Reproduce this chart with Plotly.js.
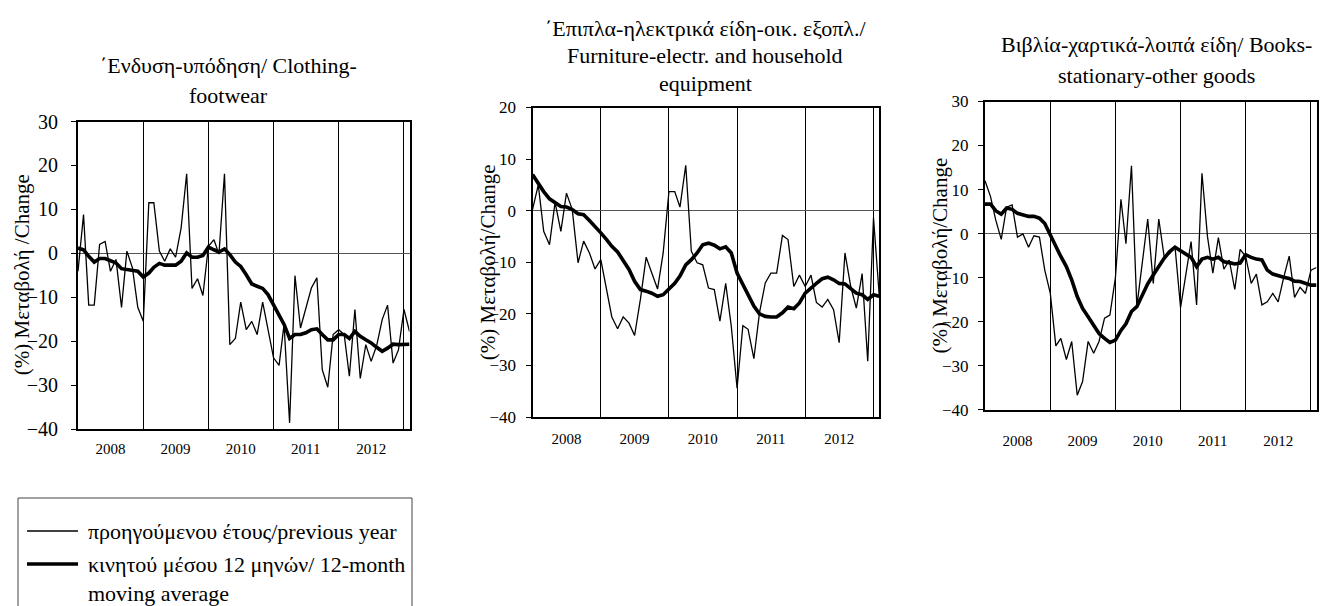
<!DOCTYPE html>
<html><head><meta charset="utf-8">
<script src="https://cdn.plot.ly/plotly-3.0.1.min.js"></script>
<style>html,body{margin:0;padding:0;background:#fff}#chart{width:1321px;height:606px}</style>
</head><body><div id="chart"></div>
<script>
// ---- categories ----
const yearLabels = ['2008', '2009', '2010', '2011', '2012'];
const yearMid = ['2008-07-01', '2009-07-01', '2010-07-01', '2011-07-01', '2012-07-01'];
const months = [];
for (let y = 2008; y <= 2013; y++) {
  for (let m = 1; m <= 12; m++) {
    if (y === 2013 && m > 2) break;
    months.push(y + '-' + String(m).padStart(2, '0') + '-01');
  }
}

// ---- series (Jan 2008 - Feb 2013) ----
const clothYoY = [-4.1, 8.8, -11.8, -11.8, 2, 2.7, -4.1, -1.4, -12.3, 0.5, -3.3, -12.3,
  -15.5, 11.5, 11.5, 0.5, -1.8, 1, -0.9, 5.8, 18.1, -8, -5.8, -9.6,
  1.6, 3.1, -0.2, 18.1, -20.8, -19.4, -11.1, -17.4, -15.5, -18.5, -11.1, -17,
  -23.8, -25.5, -16.2, -38.6, -5.1, -17, -12.3, -7.9, -5.6, -26.5, -30.5, -18.5,
  -17.4, -18.5, -28, -12.8, -28.5, -20.8, -24.6, -21, -15.1, -11.8, -25, -22,
  -12.8, -17.8];
const clothMA = [1.2, 0.8, -0.7, -2, -1.2, -1.2, -1.7, -2.2, -3.5, -3.7, -3.7, -4.1,
  -5.4, -4.5, -3.2, -2.3, -2.7, -2.7, -2.7, -1.8, 0.1, -0.9, -0.9, -0.5,
  1.4, 0.8, 0.3, 1, -0.3, -2, -3, -4.9, -7, -7.5, -8, -9.4,
  -11.7, -14, -16.2, -19.4, -18.5, -18.5, -18.1, -17.4, -17.2, -18.5, -19.7, -19.7,
  -18.5, -18.5, -19.4, -17.8, -18.9, -19.7, -20.4, -21.4, -22.3, -21.6, -20.7, -20.8,
  -20.7, -20.7];

const furnYoY = [0.2, 5, -4, -6.6, 1.6, -4, 3.4, 0.2, -10.1, -5.9, -8.2, -11.3,
  -9.5, -15.3, -20.6, -22.9, -20.6, -21.8, -24.2, -17.2, -9, -12.1, -15.2, -8.2,
  3.7, 3.7, 0.7, 8.8, -7.9, -10.1, -10.5, -15, -15.3, -21.4, -14.1, -22.4,
  -34.4, -22.3, -23, -28.7, -19.8, -14, -12.1, -12.1, -4.8, -5.6, -14.7, -12.5,
  -14.7, -12.5, -17.8, -18.7, -17.2, -19.2, -25.6, -8.2, -14.7, -18.9, -12.2, -29.2,
  -1.4, -16.6];
const furnMA = [7, 5.2, 3.7, 2.3, 1.6, 0.8, 0.7, 0.2, -0.6, -0.8, -1.9, -3,
  -4.3, -5.6, -6.9, -8, -9.7, -11.4, -13.7, -15.3, -15.6, -16, -16.6, -16.3,
  -15.2, -14.1, -12.7, -10.5, -9.5, -8.2, -6.6, -6.3, -6.7, -7.4, -7, -8.2,
  -12.1, -14.3, -16.3, -18.5, -20, -20.5, -20.6, -20.6, -19.8, -18.7, -19, -17.9,
  -16, -14.9, -14.1, -13.2, -12.9, -13.4, -14.1, -14.2, -15.2, -16, -16.3, -17.2,
  -16.3, -16.6];

const booksYoY = [12, 8.4, 3.1, -1.3, 6, 6.5, -0.8, -0.1, -3.1, -0.5, -0.8, -8.3,
  -13.6, -25.5, -23.8, -28.6, -24.5, -36.7, -33.6, -24.5, -27.2, -24.5, -19.2, -18.5,
  -10, 7.8, -2.3, 15.4, -16.6, -7, 3.3, -11.3, 3.3, -5.2, -4.5, -3,
  -16.8, -9, -1.8, -16.2, 13.7, -0.7, -9, -0.9, -8.1, -6, -12.7, -3.6,
  -5.2, -11.3, -9.2, -16.2, -15.5, -13.6, -15.5, -10, -5.1, -14.5, -12.2, -13.6,
  -8.3, -7.7];
const booksMA = [6.7, 6.7, 5.2, 4.4, 5.8, 5.5, 4.6, 4.2, 3.9, 3.9, 3.5, 2.3,
  -0.3, -3.3, -5.2, -7.5, -10.5, -14.3, -17, -18.9, -20.8, -22.7, -23.8, -24.7,
  -24.2, -22, -20.5, -17.7, -16.6, -13.9, -11.4, -9.4, -7.5, -5.6, -4.1, -3.1,
  -3.9, -4.8, -5.4, -7.5, -5.8, -5.4, -5.8, -5.4, -6.4, -6.6, -6.9, -6.7,
  -4.8, -5.4, -5.8, -6, -8.3, -9.2, -9.6, -9.9, -10.2, -10.8, -10.9, -11.3,
  -11.7, -11.7];

// ---- texts ----
const titles = [
  ['΄Ενδυση-υπόδηση/ Clothing-', 'footwear'],
  ['΄Επιπλα-ηλεκτρικά είδη-οικ. εξοπλ./', 'Furniture-electr. and household', 'equipment'],
  ['Βιβλία-χαρτικά-λοιπά είδη/ Books-', 'stationary-other goods']
];
const yTitles = ['(%) Μεταβολή /Change', '(%) Μεταβολή/Change', '(%) Μεταβολή/Change'];
const legendTexts = ['προηγούμενου έτους/previous year', 'κινητού μέσου 12 μηνών/ 12-month', 'moving average'];

// ---- layout helpers ----
const W = 1321, H = 606;
const FONT = 'Liberation Serif, Times New Roman, serif';
const px = v => v / W;
const py = v => 1 - v / H;

const panels = [
  {x0: 78, x1: 409.5, y0: 121.5, y1: 429, range: [-40, 30], tfs: 20, ystand: 9, xstand: 5,
   titleX: 228, titleY: [65, 95], yTitleX: 22, yoy: clothYoY, ma: clothMA},
  {x0: 532.5, x1: 879.3, y0: 107.5, y1: 417, range: [-40, 20], tfs: 17, ystand: 6, xstand: 7,
   titleX: 705, titleY: [28, 55, 83], yTitleX: 488, yoy: furnYoY, ma: furnMA},
  {x0: 985, x1: 1316.5, y0: 101.5, y1: 409.7, range: [-40, 30], tfs: 17, ystand: 6, xstand: 16,
   titleX: 1156, titleY: [45, 75], yTitleX: 940, yoy: booksYoY, ma: booksMA}
];

const data = [];
const layout = {
  width: W, height: H,
  margin: {l: 0, r: 0, t: 0, b: 0},
  paper_bgcolor: '#fff', plot_bgcolor: '#fff',
  showlegend: false,
  font: {family: FONT, color: '#000'},
  annotations: [], shapes: []
};

panels.forEach((p, i) => {
  const n = i + 1;
  const xa = n === 1 ? 'x' : 'x' + n;
  const ya = n === 1 ? 'y' : 'y' + n;
  data.push({x: months, y: p.yoy, xaxis: xa, yaxis: ya, type: 'scatter', mode: 'lines',
    line: {color: '#000', width: 1.3}, name: legendTexts[0], hoverinfo: 'x+y'});
  data.push({x: months, y: p.ma, xaxis: xa, yaxis: ya, type: 'scatter', mode: 'lines',
    line: {color: '#000', width: 3.6}, name: legendTexts[1] + ' ' + legendTexts[2], hoverinfo: 'x+y'});
  layout['xaxis' + (n === 1 ? '' : n)] = {
    domain: [px(p.x0), px(p.x1)], anchor: ya, type: 'date',
    range: ['2008-01-01', '2013-02-01'],
    showline: true, mirror: true, linecolor: '#000', linewidth: 2,
    showgrid: false, zeroline: false,
    tickmode: 'array', tickvals: yearMid, ticktext: yearLabels, ticks: '',
    tickfont: {family: FONT, size: 15, color: '#000'}, ticklabelstandoff: p.xstand,
    minor: {tickmode: 'linear', tick0: '2008-01-01', dtick: 'M12', showgrid: true,
      gridcolor: '#000', gridwidth: 1, ticks: ''}
  };
  layout['yaxis' + (n === 1 ? '' : n)] = {
    domain: [py(p.y1), py(p.y0)], anchor: xa, range: p.range,
    tickmode: 'linear', tick0: 0, dtick: 10,
    showline: true, mirror: true, linecolor: '#000', linewidth: 2,
    showgrid: false, zeroline: true, zerolinecolor: '#555', zerolinewidth: 1,
    ticks: 'outside', ticklen: 5, tickcolor: '#000', tickwidth: 1,
    tickfont: {family: FONT, size: p.tfs, color: '#000'}, ticklabelstandoff: p.ystand
  };
  titles[i].forEach((t, k) => {
    layout.annotations.push({text: t, xref: 'paper', yref: 'paper', x: px(p.titleX), y: py(p.titleY[k]),
      xanchor: 'center', yanchor: 'middle', showarrow: false, font: {family: FONT, size: 22, color: '#000'}});
  });
  layout.annotations.push({text: yTitles[i], xref: 'paper', yref: 'paper', x: px(p.yTitleX),
    y: py((p.y0 + p.y1) / 2), xanchor: 'center', yanchor: 'middle', textangle: -90, showarrow: false,
    font: {family: FONT, size: 21, color: '#000'}});
});

// ---- legend box ----
layout.shapes.push({type: 'rect', xref: 'paper', yref: 'paper', x0: px(18), x1: px(412), y0: py(498), y1: py(612),
  line: {color: '#444', width: 1}, fillcolor: 'rgba(0,0,0,0)'});
layout.shapes.push({type: 'line', xref: 'paper', yref: 'paper', x0: px(27), x1: px(78), y0: py(531), y1: py(531),
  line: {color: '#000', width: 1.3}});
layout.shapes.push({type: 'line', xref: 'paper', yref: 'paper', x0: px(27), x1: px(78), y0: py(564), y1: py(564),
  line: {color: '#000', width: 3.6}});
[531, 564, 593].forEach((yy, k) => {
  layout.annotations.push({text: legendTexts[k], xref: 'paper', yref: 'paper', x: px(86), y: py(yy),
    xanchor: 'left', yanchor: 'middle', showarrow: false, font: {family: FONT, size: 22, color: '#000'}});
});

Plotly.newPlot('chart', data, layout, {displayModeBar: false, staticPlot: true});
</script>
</body></html>
